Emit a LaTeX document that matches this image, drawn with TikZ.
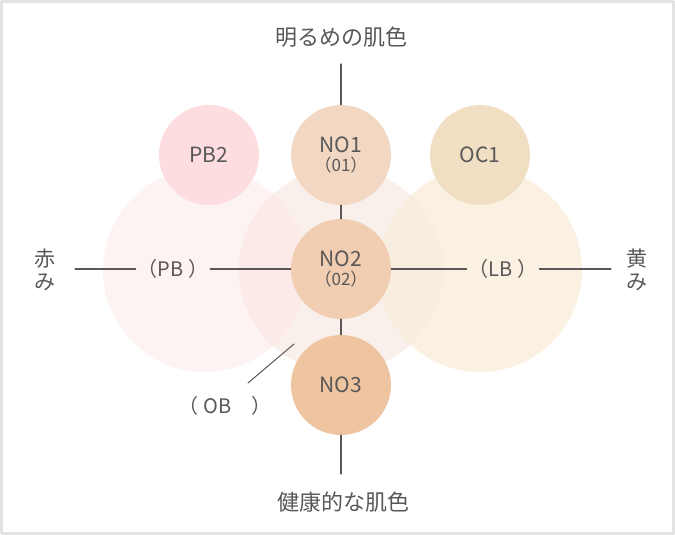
\documentclass[tikz,border=0pt]{standalone}
\usepackage{fontspec}
\setmainfont{Noto Sans CJK JP}
\definecolor{ink}{HTML}{595757}
\definecolor{frame}{HTML}{E3E3E3}
\definecolor{bigL}{HTML}{FDF3F2}
\definecolor{bigM}{HTML}{F9F0EB}
\definecolor{bigR}{HTML}{FAF1E3}
\definecolor{lapL}{HTML}{FBEAE8}
\definecolor{lapR}{HTML}{F7EEDF}
\definecolor{cPB}{HTML}{FDDDDF}
\definecolor{cNOa}{HTML}{F2D8C2}
\definecolor{cOC}{HTML}{F0DFC3}
\definecolor{cNOb}{HTML}{F1CDB1}
\definecolor{cNOc}{HTML}{EFC4A0}
\begin{document}
\begin{tikzpicture}[x=1pt,y=-1pt,line cap=round,line join=round,
dot/.style={circle,minimum size=100pt,inner sep=0pt,text=ink,align=center,font=\fontsize{21}{21}\selectfont},
tag/.style={text=ink,inner sep=2pt,font=\fontsize{20}{20}\selectfont},
side/.style={text=ink,align=center,inner sep=0pt,font=\fontsize{21}{23}\selectfont},
wire/.style={draw=ink,line width=1.2pt}]
\useasboundingbox (0,0) rectangle (675,535);
\draw[frame,line width=3pt] (1.5,1.5) rectangle (673.5,533.5);
\path
(205,270) coordinate (L)
(341,270) coordinate (M)
(480,270) coordinate (R)
(341,64) coordinate (topend)
(341,474) coordinate (botend)
(75,269) coordinate (akaend)
(611,269) coordinate (kiend)
(294,344) coordinate (obtop)
(248,383) coordinate (obend)
;
% large circles
\foreach \d/\c in{L/bigL,M/bigM,R/bigR}
\fill[\c](\d)circle(102pt);
\begin{scope}
\clip (L)circle(102pt);
\fill[lapL](M)circle(102pt);
\end{scope}
\begin{scope}
\clip (R)circle(102pt);
\fill[lapR](M)circle(102pt);
\end{scope}
% small circles
\node[dot,fill=cPB] (PB2) at (209,155) {PB2};
\node[dot,fill=cNOa] (NO1) at (341,155) {NO1\\[-2pt]{\fontsize{17}{17}\selectfont （01）}};
\node[dot,fill=cOC] (OC1) at (480,155) {OC1};
\node[dot,fill=cNOb] (NO2) at (341,269) {NO2\\[-2pt]{\fontsize{17}{17}\selectfont （02）}};
\node[dot,fill=cNOc] (NO3) at (341,385) {NO3};
% labels
\node[text=ink,font=\fontsize{22}{22}\selectfont] (light) at (341,37) {明るめの肌色};
\node[text=ink,font=\fontsize{22}{22}\selectfont] (dark) at (343,502) {健康的な肌色};
\node[side] (red) at (45,270) {赤\\み};
\node[side] (yellow) at (637,270) {黄\\み};
\node[tag] (PB) at (173,269) {（PB ）};
\node[tag] (LB) at (503,269) {（LB ）};
\node[tag] (OB) at (225,406) {（ OB　）};
% connectors
\draw[wire] (topend)--(NO1);
\draw[wire] (NO1)--(NO2);
\draw[wire] (NO2)--(NO3);
\draw[wire] (NO3)--(botend);
\draw[wire] (akaend)--(PB);
\draw[wire] (PB)--(NO2);
\draw[wire] (NO2)--(LB);
\draw[wire] (LB)--(kiend);
\draw[wire,line width=1pt] (obtop)--(obend);
\end{tikzpicture}
\end{document}
